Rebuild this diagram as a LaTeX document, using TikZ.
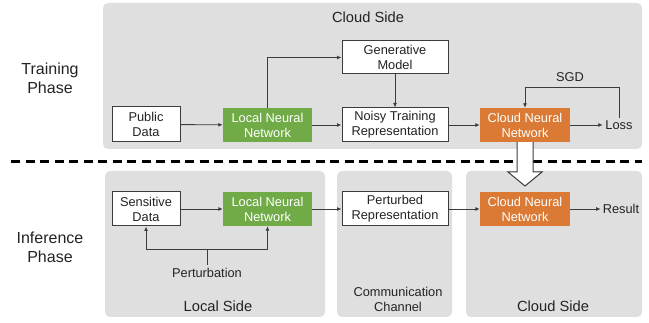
\documentclass[tikz,border=0pt]{standalone}
\usepackage{fontspec}
\setmainfont{Liberation Sans}
\usetikzlibrary{arrows.meta}
\definecolor{panelgray}{RGB}{223,223,223}
\definecolor{lnngreen}{RGB}{112,171,72}
\definecolor{cnnorange}{RGB}{218,122,52}
\definecolor{linegray}{RGB}{60,60,60}
\definecolor{txt}{RGB}{35,35,35}
\tikzset{
  panel/.style={fill=panelgray, draw=none, rounded corners=5pt},
  boxtext/.style={font=\fontsize{12.8}{15}\selectfont, align=center, text=txt},
  whitebox/.style={boxtext, draw=linegray, line width=1pt, fill=white, inner sep=0pt},
  greenbox/.style={boxtext, fill=lnngreen, text=white, inner sep=0pt, minimum width=89pt, minimum height=34pt},
  orangebox/.style={boxtext, fill=cnnorange, text=white, inner sep=0pt, minimum width=90pt, minimum height=34pt},
  plain/.style={boxtext, inner sep=2pt},
  sidelabel/.style={font=\fontsize{14.7}{17}\selectfont, text=txt, inner sep=0pt},
  phaselabel/.style={font=\fontsize{16}{19}\selectfont, align=center, text=txt, inner sep=0pt},
  conn/.style={draw=linegray, line width=0.9pt},
  arr/.style={conn, -{Latex[length=4.5pt,width=4pt]}},
}
\begin{document}
\begin{tikzpicture}[x=1pt,y=-1pt]
\useasboundingbox (0,0) rectangle (649,323);
% panels
\fill[panel] (103,3) rectangle (642,149);
\fill[panel] (105,171) rectangle (325,317);
\fill[panel] (337,171) rectangle (452,317);
\fill[panel] (466,171) rectangle (642,317);
% labels
\node[sidelabel] (cloudtop) at (368,17) {Cloud Side};
\node[sidelabel] (localside) at (218,306) {Local Side};
\node[sidelabel] (cloudbot) at (553,306) {Cloud Side};
\node[boxtext, inner sep=0pt] (comm) at (398,299) {Communication\\Channel};
\node[phaselabel] (train) at (50,78) {Training\\Phase};
\node[phaselabel] (infer) at (50,247) {Inference\\Phase};
% dashed separator
\coordinate (dl) at (11,162);
\coordinate (dr) at (642,162);
\draw[line width=3pt, black, dash pattern=on 9pt off 5.5pt] (dl) -- (dr);
% training row
\node[whitebox, minimum width=68pt, minimum height=35pt] (pub) at (146,124.5) {Public\\Data};
\node[greenbox] (lnn1) at (267.5,125) {Local Neural\\Network};
\node[whitebox, minimum width=106pt, minimum height=33pt] (gm) at (395,57.5) {Generative\\Model};
\node[whitebox, minimum width=106pt, minimum height=34pt] (noisy) at (395,125) {Noisy Training\\Representation};
\node[orangebox] (cnn1) at (525,125) {Cloud Neural\\Network};
\node[plain, inner sep=2.5pt] (loss) at (619,125) {Loss};
\node[plain] (sgd) at (570,77) {SGD};
\coordinate (fb) at (619,87);
\draw[arr] (pub) -- (lnn1);
\draw[arr] (lnn1.north) |- (gm.west);
\draw[arr] (gm.south) -- (noisy.north);
\draw[arr] (lnn1) -- (noisy);
\draw[arr] (noisy) -- (cnn1);
\draw[arr] (cnn1) -- (loss);
\draw[arr] (loss.north) -- (fb) -| (cnn1.north);
% inference row
\node[whitebox, minimum width=68pt, minimum height=34pt] (sens) at (146,209) {Sensitive\\Data};
\node[greenbox] (lnn2) at (267.5,209) {Local Neural\\Network};
\node[whitebox, minimum width=106pt, minimum height=34pt] (pert) at (395,209) {Perturbed\\Representation};
\node[orangebox] (cnn2) at (525,209) {Cloud Neural\\Network};
\node[plain, inner sep=2pt] (res) at (621,209) {Result};
\draw[arr] (sens) -- (lnn2);
\draw[arr] (lnn2) -- (pert);
\draw[arr] (pert) -- (cnn2);
\draw[arr] (cnn2) -- (res);
\node[plain, inner sep=3pt] (perturb) at (207,273) {Perturbation};
\coordinate (pj) at (207,249);
\draw[arr] (pj) -| (sens.south);
\draw[arr] (pj) -| (lnn2.south);
\draw[conn] (pj) -- (perturb.north);
% hollow transfer arrow
\draw[draw=linegray, line width=1pt, fill=white]
  (cnn1.south -| 517,0) -- (517,172) -- (508,172) -- (525,186) -- (542,172) -- (533,172) -- (cnn1.south -| 533,0);
\end{tikzpicture}
\end{document}
